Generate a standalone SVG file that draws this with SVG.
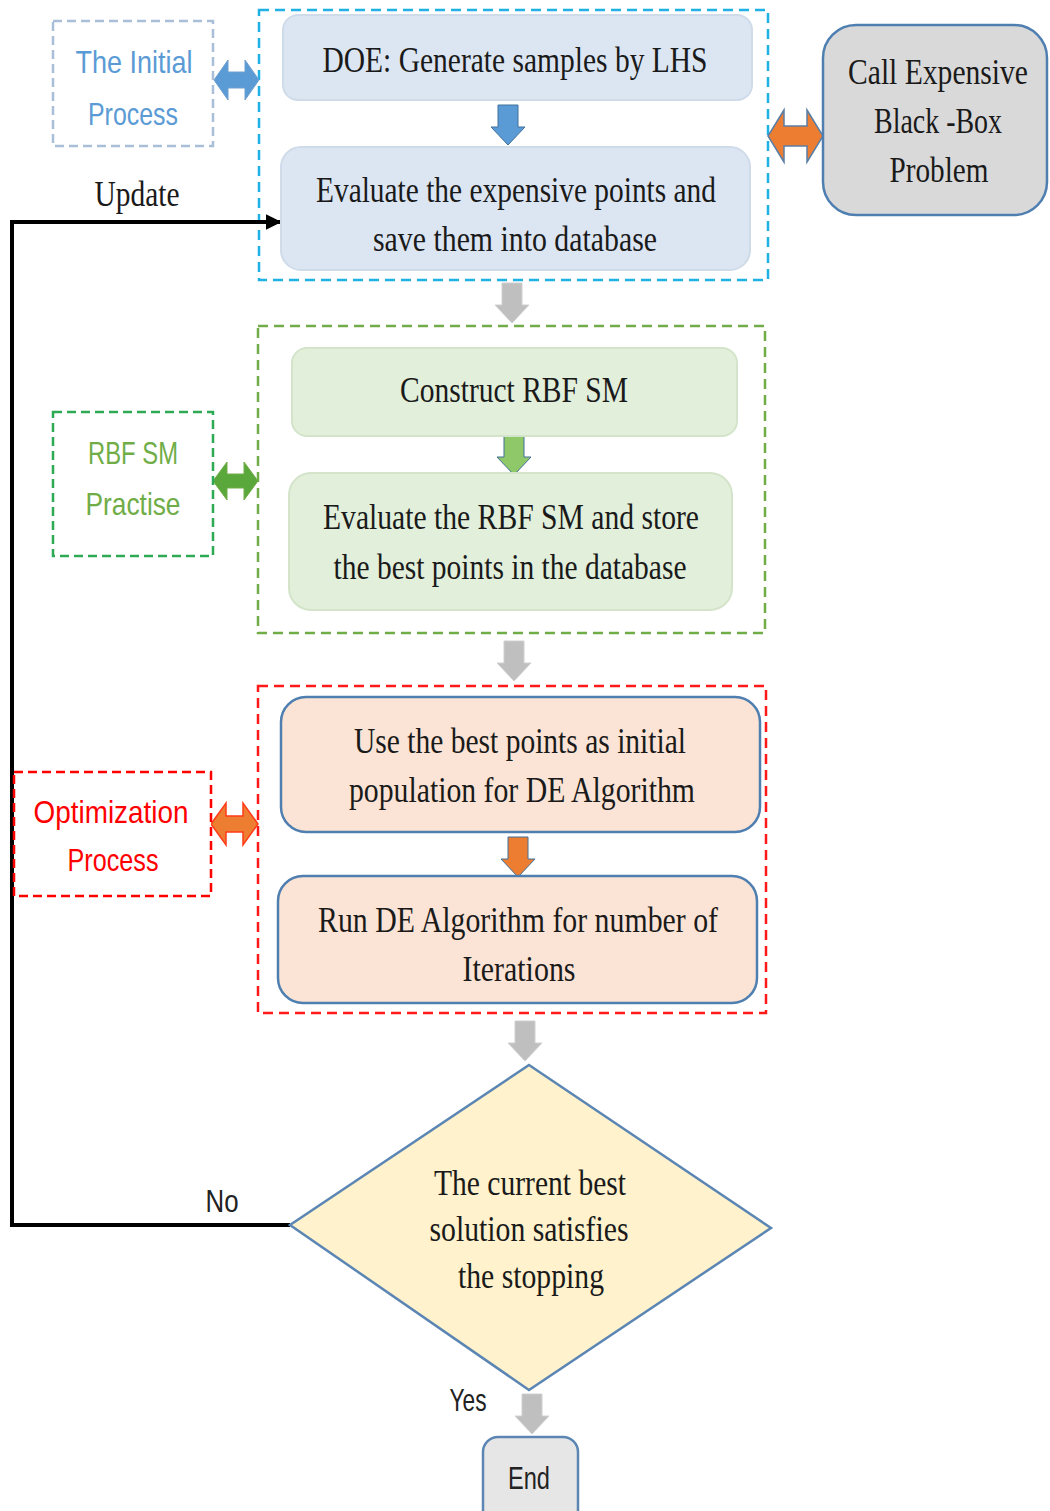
<svg xmlns="http://www.w3.org/2000/svg" width="1050" height="1511" viewBox="0 0 1050 1511">
<style>
.serif{font-family:"Liberation Serif","Times New Roman",serif;font-size:35px;fill:#1a1a1a;text-anchor:middle}
.sans{font-family:"Liberation Sans",Arial,sans-serif;font-size:32px;text-anchor:middle}
.cont{fill:none;stroke-width:2.5;stroke-dasharray:10 6}
.lbl{fill:#fff;stroke-width:2.5;stroke-dasharray:9 5}
.blueBox{fill:#dce6f2;stroke:#cfdbe9;stroke-width:2}
.greenBox{fill:#e2efda;stroke:#d4e4ca;stroke-width:2}
.orangeBox{fill:#fbe4d5;stroke:#4f7fb0;stroke-width:2.5}
.grey{fill:#bfbfbf;stroke:#d0d0d0;stroke-width:1}
.line{fill:none;stroke:#000;stroke-width:4}
</style>
<defs>
<path id="down" d="M-10,0 H10 V22 H17 L0,40 L-17,22 H-10 Z"/>
<marker id="ah" viewBox="0 0 10 10" refX="9" refY="5" markerWidth="4" markerHeight="4" orient="auto" markerUnits="strokeWidth">
<path d="M0,0 L10,5 L0,10 Z" fill="#000"/>
</marker>
</defs>

<!-- containers -->
<rect class="cont" x="259" y="10" width="509" height="270" stroke="#1fb0e6"/>
<rect class="cont" x="258" y="326" width="507" height="307" stroke="#70ad47"/>
<rect class="cont" x="258" y="686" width="508" height="327" stroke="#ff1a1a"/>

<g id="connectors">
<polyline class="line" points="290,1225 12,1225 12,222 280,222" marker-end="url(#ah)"/>
<use href="#down" x="512" y="283" class="grey"/>
<use href="#down" x="514" y="641" class="grey"/>
<use href="#down" x="525" y="1021" class="grey"/>
<use href="#down" x="532" y="1394" class="grey"/>
<use href="#down" x="508" y="105" fill="#5b9bd5" stroke="#41719c" stroke-width="1"/>
<use href="#down" x="514" y="435" fill="#8fc868" stroke="#41719c" stroke-width="1"/>
<use href="#down" x="518" y="837" fill="#ed7d31" stroke="#41719c" stroke-width="1"/>
<path d="M214,80 L228,60 L228,72 L245,72 L245,60 L259,80 L245,100 L245,88 L228,88 L228,100 Z" fill="#5b9bd5" stroke="#6f9fd0" stroke-width="1"/>
<path d="M768,136 L784,110 L784,126 L807,126 L807,110 L823,136 L807,162 L807,146 L784,146 L784,162 Z" fill="#ed7d31" stroke="#5a7fa6" stroke-width="1.5"/>
<path d="M213,481 L227,462 L227,474 L244,474 L244,462 L258,481 L244,500 L244,488 L227,488 L227,500 Z" fill="#5aa83c" stroke="#70ad47" stroke-width="1"/>
<path d="M211,824 L226,803 L226,816 L243,816 L243,803 L258,824 L243,845 L243,832 L226,832 L226,845 Z" fill="#ed7d31" stroke="#ff3b1a" stroke-width="1.5"/>
<text class="serif" x="137" y="206" font-size="32" textLength="85" lengthAdjust="spacingAndGlyphs">Update</text>
<text class="sans" x="222" y="1212" font-size="30" fill="#222" textLength="33" lengthAdjust="spacingAndGlyphs">No</text>
<text class="sans" x="468" y="1411" font-size="30" fill="#222" textLength="37" lengthAdjust="spacingAndGlyphs">Yes</text>
</g>

<g id="initial-label">
<rect class="lbl" x="53" y="21" width="160" height="125" stroke="#a9bfd8"/>
<text class="sans" x="134" y="73" fill="#5b9bd5" textLength="117" lengthAdjust="spacingAndGlyphs">The Initial</text>
<text class="sans" x="133" y="125" fill="#5b9bd5" textLength="90" lengthAdjust="spacingAndGlyphs">Process</text>
</g>

<g id="doe">
<rect class="blueBox" x="283" y="15" width="469" height="85" rx="15"/>
<text class="serif" x="515" y="72" textLength="385" lengthAdjust="spacingAndGlyphs">DOE: Generate samples by LHS</text>
</g>

<g id="evaluate-expensive">
<rect class="blueBox" x="281" y="147" width="469" height="123" rx="20"/>
<text class="serif" x="516" y="202" textLength="400" lengthAdjust="spacingAndGlyphs">Evaluate the expensive points and</text>
<text class="serif" x="515" y="251" textLength="284" lengthAdjust="spacingAndGlyphs">save  them into database</text>
</g>

<g id="blackbox">
<rect x="823" y="25" width="224" height="190" rx="33" fill="#d9d9d9" stroke="#4f7fb0" stroke-width="2.5"/>
<text class="serif" x="938" y="84" font-size="33" textLength="180" lengthAdjust="spacingAndGlyphs">Call Expensive</text>
<text class="serif" x="938" y="133" font-size="33" textLength="128" lengthAdjust="spacingAndGlyphs">Black -Box</text>
<text class="serif" x="939" y="182" font-size="33" textLength="99" lengthAdjust="spacingAndGlyphs">Problem</text>
</g>

<g id="rbf-label">
<rect class="lbl" x="53" y="412" width="160" height="144" stroke="#2eaa55"/>
<text class="sans" x="133" y="464" fill="#70ad47" textLength="90" lengthAdjust="spacingAndGlyphs">RBF SM</text>
<text class="sans" x="133" y="515" fill="#70ad47" textLength="95" lengthAdjust="spacingAndGlyphs">Practise</text>
</g>

<g id="construct-rbf">
<rect class="greenBox" x="292" y="348" width="445" height="88" rx="15"/>
<text class="serif" x="514" y="402" textLength="228" lengthAdjust="spacingAndGlyphs">Construct RBF SM</text>
</g>

<g id="evaluate-rbf">
<rect class="greenBox" x="289" y="473" width="443" height="137" rx="22"/>
<text class="serif" x="511" y="529" textLength="376" lengthAdjust="spacingAndGlyphs">Evaluate the RBF SM and store</text>
<text class="serif" x="510" y="579" textLength="353" lengthAdjust="spacingAndGlyphs">the best points in the database</text>
</g>

<g id="opt-label">
<rect class="lbl" x="14" y="772" width="197" height="124" stroke="#ff0000"/>
<text class="sans" x="111" y="823" fill="#ff0000" textLength="155" lengthAdjust="spacingAndGlyphs">Optimization</text>
<text class="sans" x="113" y="871" fill="#ff0000" textLength="91" lengthAdjust="spacingAndGlyphs">Process</text>
</g>

<g id="initial-population">
<rect class="orangeBox" x="281" y="697" width="479" height="135" rx="25"/>
<text class="serif" x="520" y="753" textLength="332" lengthAdjust="spacingAndGlyphs">Use the best points as initial</text>
<text class="serif" x="522" y="802" textLength="346" lengthAdjust="spacingAndGlyphs">population for DE Algorithm</text>
</g>

<g id="run-de">
<rect class="orangeBox" x="278" y="876" width="479" height="127" rx="25"/>
<text class="serif" x="518" y="932" textLength="400" lengthAdjust="spacingAndGlyphs">Run DE Algorithm for number of</text>
<text class="serif" x="519" y="981" textLength="113" lengthAdjust="spacingAndGlyphs">Iterations</text>
</g>

<g id="decision">
<polygon points="529,1065 771,1228 529,1390 290,1225" fill="#fff2cc" stroke="#5b86b4" stroke-width="2.5"/>
<text class="serif" x="530" y="1195" textLength="192" lengthAdjust="spacingAndGlyphs">The current best</text>
<text class="serif" x="529" y="1241" textLength="199" lengthAdjust="spacingAndGlyphs">solution satisfies</text>
<text class="serif" x="531" y="1288" textLength="146" lengthAdjust="spacingAndGlyphs">the stopping</text>
</g>

<g id="end">
<rect x="483" y="1437" width="95" height="90" rx="15" fill="#e7e6e6" stroke="#5b86b4" stroke-width="2.5"/>
<text class="sans" x="529" y="1489" font-size="31" fill="#222" textLength="42" lengthAdjust="spacingAndGlyphs">End</text>
</g>
</svg>
